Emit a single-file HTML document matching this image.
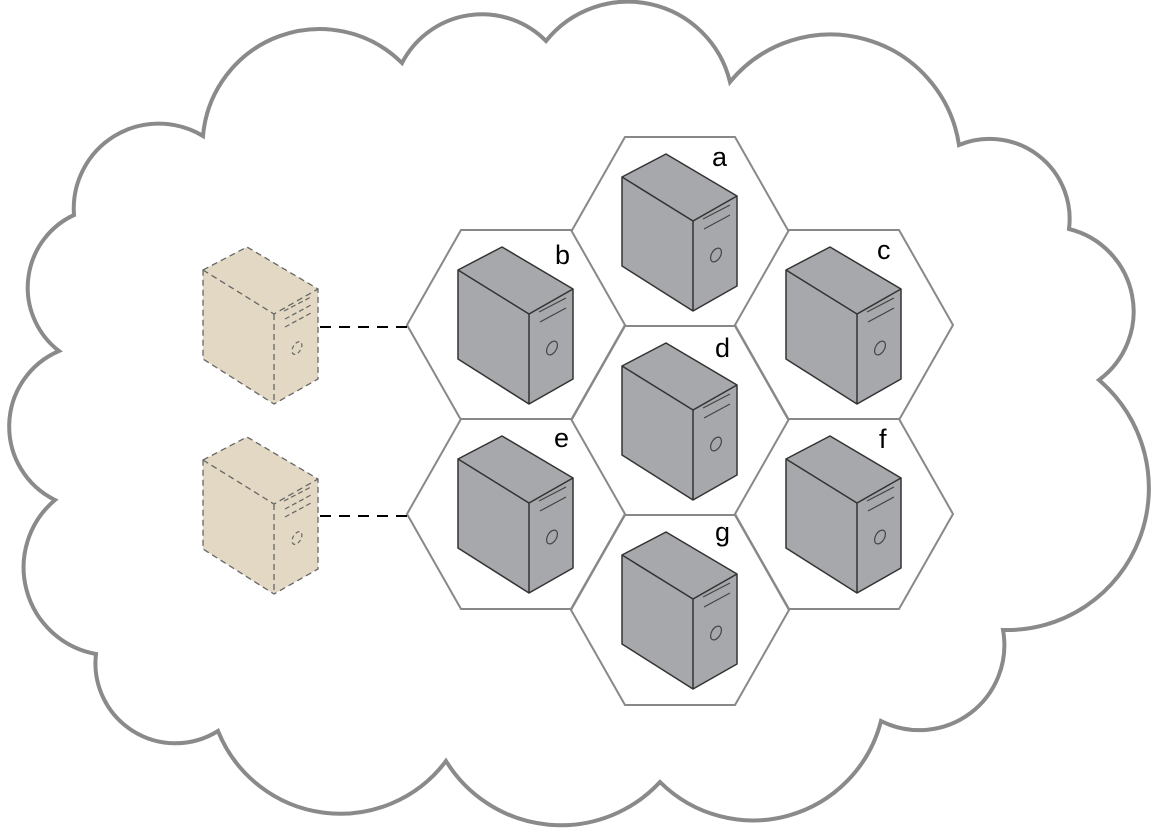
<!DOCTYPE html>
<html><head><meta charset="utf-8"><style>body{margin:0;background:#fff}svg{display:block}</style></head>
<body>
<svg width="1156" height="834" viewBox="0 0 1156 834" xmlns="http://www.w3.org/2000/svg">
<defs>
<g id="srv">
<path d="M-58,-55 L-14,-78 L57,-36 L57,54 L13,79 L-58,34 Z" fill="#a7a8ab" stroke="#333" stroke-width="1.5" stroke-linejoin="round"/>
<path d="M-58,-55 L13,-11 L57,-36 M13,-11 L13,79" fill="none" stroke="#333" stroke-width="1.5"/>
<path d="M23,-13 L50,-27 M24,-3 L50,-17" stroke="#444" stroke-width="1.2"/>
<ellipse cx="36" cy="23" rx="4.5" ry="7.5" transform="rotate(30 36 23)" fill="none" stroke="#444" stroke-width="1.2"/>
</g>
<g id="dsrv">
<path d="M-58,-55 L-14,-78 L57,-36 L57,54 L13,79 L-58,34 Z" fill="#e2d8c3" stroke="#666" stroke-width="1.3" stroke-dasharray="6,4"/>
<path d="M-58,-55 L13,-11 L57,-36 M13,-11 L13,79" fill="none" stroke="#666" stroke-width="1.3" stroke-dasharray="6,4"/>
<path d="M23,-14 L50,-28 M24,-6 L50,-20 M24,2 L50,-12" stroke="#666" stroke-width="1.2" stroke-dasharray="5,3"/>
<ellipse cx="36" cy="23" rx="4" ry="7" transform="rotate(30 36 23)" fill="none" stroke="#666" stroke-width="1.2" stroke-dasharray="4,3"/>
</g>
<path id="hex" d="M-55,-95 L55,-95 L109,0 L55,95 L-55,95 L-109,0 Z" fill="#fff" stroke="#888" stroke-width="2"/>
</defs>
<path d="M74,215 A85,85 0 0 1 203,136 A117,117 0 0 1 402,63 A90,90 0 0 1 546,41 A105,105 0 0 1 730,82 A130,130 0 0 1 959,145 A80,80 0 0 1 1069,229 A85,85 0 0 1 1099,380 A142,142 0 0 1 1003,630 A85,85 0 0 1 881,721 A132,132 0 0 1 660,782 A135,135 0 0 1 446,761 A132,132 0 0 1 218,731 A80,80 0 0 1 96,654 A88,88 0 0 1 55,500 A82,82 0 0 1 59,351 A80,80 0 0 1 74,215 Z" fill="#fff" stroke="#8a8a8a" stroke-width="4" stroke-linejoin="miter"/>
<use href="#hex" x="680" y="232"/>
<use href="#hex" x="516" y="325"/>
<use href="#hex" x="844" y="325"/>
<use href="#hex" x="680" y="421"/>
<use href="#hex" x="516" y="514"/>
<use href="#hex" x="844" y="514"/>
<use href="#hex" x="680" y="610"/>
<use href="#srv" x="680" y="232"/>
<use href="#srv" x="516" y="325"/>
<use href="#srv" x="844" y="325"/>
<use href="#srv" x="680" y="421"/>
<use href="#srv" x="516" y="514"/>
<use href="#srv" x="844" y="514"/>
<use href="#srv" x="680" y="610"/>
<use href="#dsrv" x="261" y="325"/>
<use href="#dsrv" x="261" y="515"/>
<path d="M320,327 L407,327 M320,516 L407,516" stroke="#000" stroke-width="2" stroke-dasharray="11,8"/>
<g font-family="Liberation Sans, sans-serif" font-size="27" fill="#000">
<text x="712" y="166">a</text>
<text x="555" y="264">b</text>
<text x="877" y="259">c</text>
<text x="715" y="357">d</text>
<text x="554" y="447">e</text>
<text x="879" y="448">f</text>
<text x="715" y="541">g</text>
</g>
</svg>
</body></html>
